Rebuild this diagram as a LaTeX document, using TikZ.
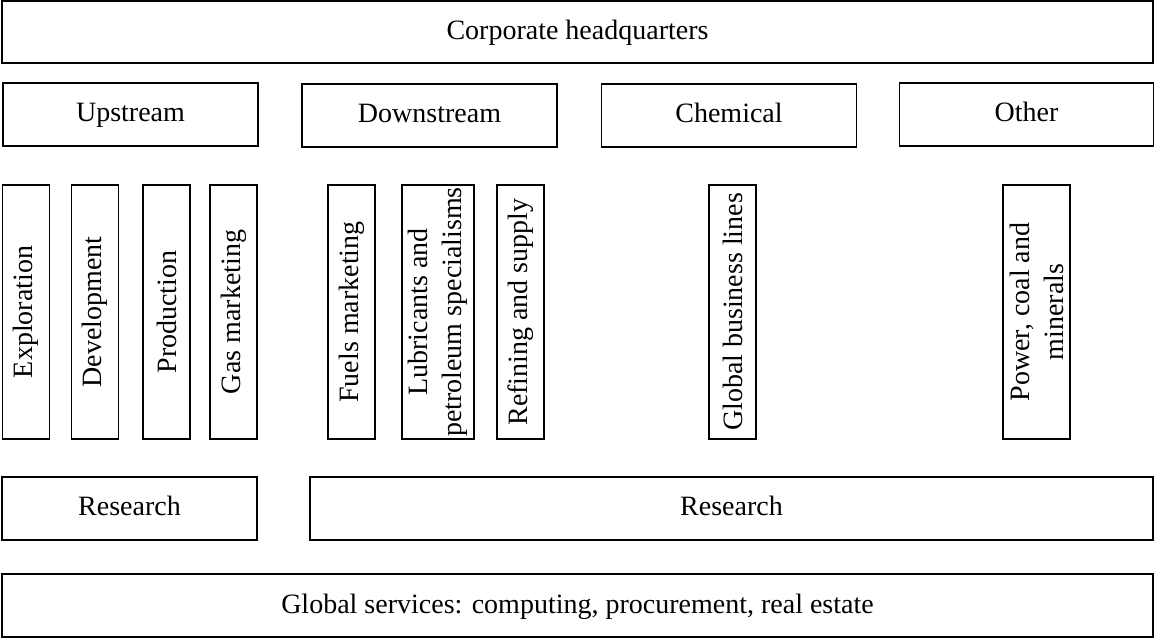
\documentclass[tikz,border=0pt]{standalone}
\usepackage{fontspec}
\setmainfont{Liberation Serif}
\usetikzlibrary{positioning}

\begin{document}
\begin{tikzpicture}[x=0.5pt,y=-0.5pt,
    box/.style={draw, line width=0.9pt, inner sep=0pt, font=\fontsize{14}{17}\selectfont},
    hbox/.style={box, text height=10.5pt, text depth=3pt, minimum height=31.5pt},
    divbox/.style={hbox, minimum width=127.5pt},
    unitbox/.style={box, rotate=90, align=center, minimum width=127pt, minimum height=23.5pt}]
    \useasboundingbox (0,0) rectangle (1155,640);

    % Corporate level
    \node[hbox, minimum width=575.5pt, minimum height=31pt] (hq) at (577.5,32) {Corporate headquarters};

    % Divisions
    \node[divbox] (up) at (130.5,114.5) {Upstream};
    \node[divbox] (down) at (429.5,115.5) {Downstream};
    \node[divbox] (chem) at (729,115.5) {Chemical};
    \node[divbox, minimum width=127pt] (other) at (1026.5,114.5) {Other};

    % Business units
    \node[unitbox] (expl) at (26,312) {Exploration};
    \node[unitbox] (devel) at (95,312) {Development};
    \node[unitbox] (prod) at (166.5,312) {Production};
    \node[unitbox] (gas) at (233.5,312) {Gas marketing};
    \node[unitbox] (fuels) at (351.5,312) {Fuels marketing};
    \node[unitbox, minimum height=36pt] (lubes) at (438,312) {Lubricants and\\petroleum specialisms};
    \node[unitbox] (refin) at (520.5,312) {Refining and supply};
    \node[unitbox] (gbl) at (732.5,312) {Global business lines};
    \node[unitbox, minimum height=33.5pt] (power) at (1036.5,312) {Power, coal and\\minerals};

    % Research
    \node[hbox, minimum width=127.5pt] (resup) at (129.5,508.5) {Research};
    \node[hbox, minimum width=421.5pt] (resdown) at (731.5,508.5) {Research};

    % Shared services
    \node[hbox, minimum width=575.5pt] (services) at (577.5,605.5) {Global services: computing, procurement, real estate};
\end{tikzpicture}
\end{document}
